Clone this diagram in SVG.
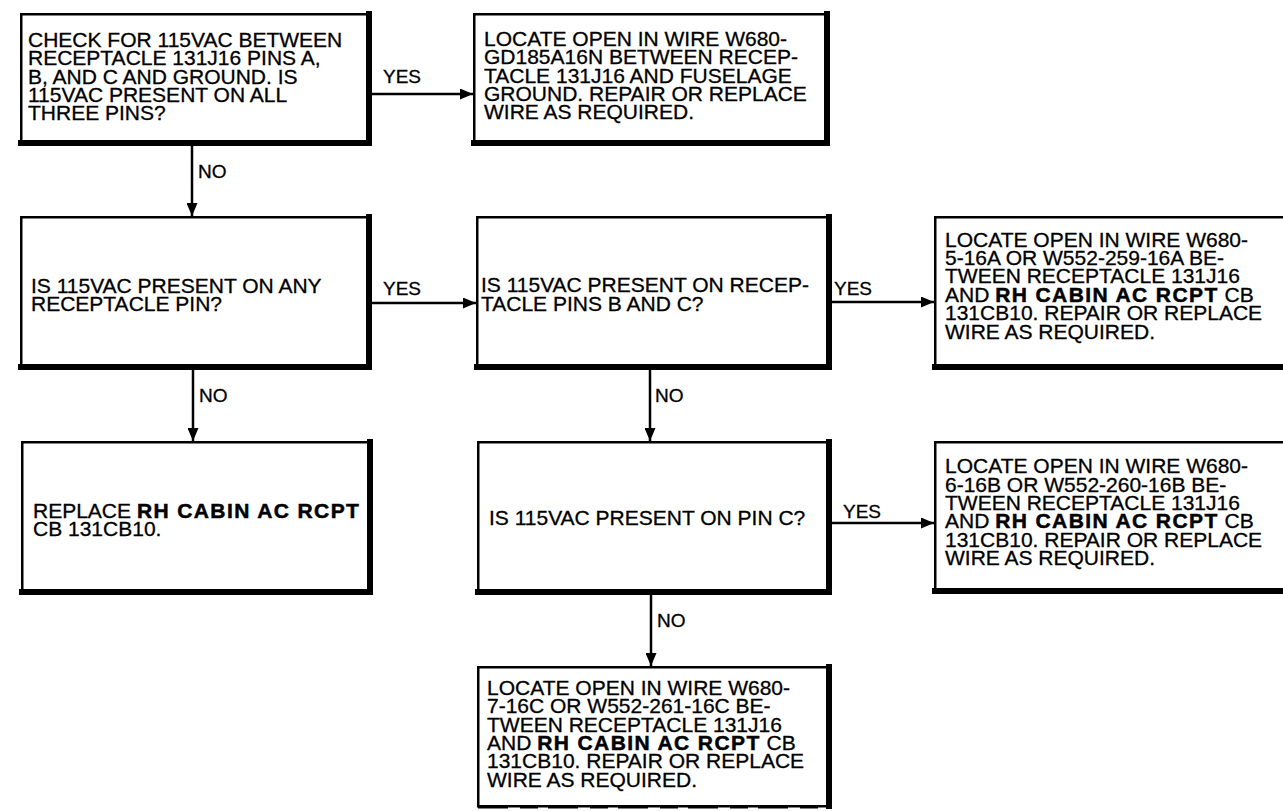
<svg xmlns="http://www.w3.org/2000/svg" width="1283" height="811" viewBox="0 0 1283 811">
<style>
.box{fill:#fff;stroke:#000;stroke-width:2.5}
.sh{fill:none;stroke:#000;stroke-width:6;stroke-linecap:square}
.t{font-family:"Liberation Sans",Arial,sans-serif;font-size:21px;fill:#000;stroke:#000;stroke-width:0.3}
.b{font-weight:bold;letter-spacing:1.4px;stroke-width:0.5}
.lbl{font-family:"Liberation Sans",Arial,sans-serif;font-size:19px;fill:#000;stroke:#000;stroke-width:0.3}
.c{fill:none;stroke:#000;stroke-width:2.5}
</style>
<defs>
<marker id="arr" viewBox="0 0 13 11" refX="13" refY="5.5" markerWidth="13" markerHeight="11" markerUnits="userSpaceOnUse" orient="auto">
<path d="M0,0 L13,5.5 L0,11 z" fill="#000"/>
</marker>
</defs>
<rect width="1283" height="811" fill="#fff"/>

<g id="connectors">
<line class="c" x1="372" y1="94" x2="473" y2="94" marker-end="url(#arr)"/>
<line class="c" x1="192" y1="146" x2="192" y2="216" marker-end="url(#arr)"/>
<line class="c" x1="372" y1="303" x2="476" y2="303" marker-end="url(#arr)"/>
<line class="c" x1="193" y1="370" x2="193" y2="441" marker-end="url(#arr)"/>
<line class="c" x1="832" y1="302" x2="934" y2="302" marker-end="url(#arr)"/>
<line class="c" x1="650" y1="370" x2="650" y2="441" marker-end="url(#arr)"/>
<line class="c" x1="832" y1="523" x2="934" y2="523" marker-end="url(#arr)"/>
<line class="c" x1="651" y1="595" x2="651" y2="666" marker-end="url(#arr)"/>
<text class="lbl" x="383" y="83">YES</text>
<text class="lbl" x="198" y="178">NO</text>
<text class="lbl" x="383" y="295">YES</text>
<text class="lbl" x="199" y="402">NO</text>
<text class="lbl" x="834" y="295">YES</text>
<text class="lbl" x="655" y="402">NO</text>
<text class="lbl" x="843" y="518">YES</text>
<text class="lbl" x="657" y="627">NO</text>
</g>

<g id="n1">
<rect class="box" x="21.25" y="14.25" width="347" height="129"/>
<path class="sh" d="M369,14 V143 H21"/>
<text class="t"><tspan x="28" y="47">CHECK FOR 115VAC BETWEEN</tspan><tspan x="28" y="65.3">RECEPTACLE 131J16 PINS A,</tspan><tspan x="28" y="83.6">B, AND C AND GROUND. IS</tspan><tspan x="28" y="102">115VAC PRESENT ON ALL</tspan><tspan x="28" y="120.3">THREE PINS?</tspan></text>
</g>

<g id="n2">
<rect class="box" x="474.25" y="14.25" width="352" height="129"/>
<path class="sh" d="M827,14 V143 H474"/>
<text class="t"><tspan x="484" y="46">LOCATE OPEN IN WIRE W680-</tspan><tspan x="484" y="64.3">GD185A16N BETWEEN RECEP-</tspan><tspan x="484" y="82.6">TACLE 131J16 AND FUSELAGE</tspan><tspan x="484" y="101">GROUND. REPAIR OR REPLACE</tspan><tspan x="484" y="119.3">WIRE AS REQUIRED.</tspan></text>
</g>

<g id="n3">
<rect class="box" x="21.25" y="217.25" width="347" height="149"/>
<path class="sh" d="M369,217 V367 H21"/>
<text class="t"><tspan x="31" y="292.5">IS 115VAC PRESENT ON ANY</tspan><tspan x="31" y="311">RECEPTACLE PIN?</tspan></text>
</g>

<g id="n4">
<rect class="box" x="477.25" y="217.25" width="352" height="149"/>
<path class="sh" d="M829,217 V367 H477"/>
<text class="t"><tspan x="481" y="292">IS 115VAC PRESENT ON RECEP-</tspan><tspan x="481" y="310.5">TACLE PINS B AND C?</tspan></text>
</g>

<g id="n5">
<rect class="box" x="935.25" y="217.25" width="360" height="149"/>
<path class="sh" d="M1295,217 V367 H935"/>
<text class="t"><tspan x="945" y="246.5">LOCATE OPEN IN WIRE W680-</tspan><tspan x="945" y="265">5-16A OR W552-259-16A BE-</tspan><tspan x="945" y="283.3">TWEEN RECEPTACLE 131J16</tspan><tspan x="945" y="301.7">AND <tspan class="b">RH CABIN AC RCPT</tspan> CB</tspan><tspan x="945" y="320">131CB10. REPAIR OR REPLACE</tspan><tspan x="945" y="338.5">WIRE AS REQUIRED.</tspan></text>
</g>

<g id="n6">
<rect class="box" x="22.25" y="442.25" width="347" height="149"/>
<path class="sh" d="M370,442 V592 H22"/>
<text class="t"><tspan x="33" y="517.5">REPLACE <tspan class="b">RH CABIN AC RCPT</tspan></tspan><tspan x="33" y="535.5">CB 131CB10.</tspan></text>
</g>

<g id="n7">
<rect class="box" x="478.25" y="442.25" width="351" height="149"/>
<path class="sh" d="M829,442 V592 H478"/>
<text class="t"><tspan x="489" y="525">IS 115VAC PRESENT ON PIN C?</tspan></text>
</g>

<g id="n8">
<rect class="box" x="935.25" y="442.25" width="360" height="148"/>
<path class="sh" d="M1295,442 V591 H935"/>
<text class="t"><tspan x="945" y="473">LOCATE OPEN IN WIRE W680-</tspan><tspan x="945" y="491.5">6-16B OR W552-260-16B BE-</tspan><tspan x="945" y="510">TWEEN RECEPTACLE 131J16</tspan><tspan x="945" y="528.3">AND <tspan class="b">RH CABIN AC RCPT</tspan> CB</tspan><tspan x="945" y="546.7">131CB10. REPAIR OR REPLACE</tspan><tspan x="945" y="565">WIRE AS REQUIRED.</tspan></text>
</g>

<g id="n9">
<rect class="box" x="478.25" y="667.25" width="351" height="139"/>
<path class="sh" d="M829,667 V806"/>
<path d="M478,807.5 H832" stroke="#000" stroke-width="2" stroke-dasharray="30 12 18 10"/>
<text class="t"><tspan x="487" y="695">LOCATE OPEN IN WIRE W680-</tspan><tspan x="487" y="713.3">7-16C OR W552-261-16C BE-</tspan><tspan x="487" y="731.6">TWEEN RECEPTACLE 131J16</tspan><tspan x="487" y="750">AND <tspan class="b">RH CABIN AC RCPT</tspan> CB</tspan><tspan x="487" y="768.3">131CB10. REPAIR OR REPLACE</tspan><tspan x="487" y="786.6">WIRE AS REQUIRED.</tspan></text>
</g>
</svg>
